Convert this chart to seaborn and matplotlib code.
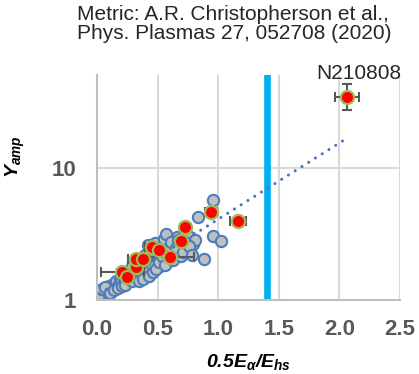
import matplotlib
matplotlib.use("Agg")
import matplotlib.pyplot as plt
import matplotlib.ticker as mticker
import seaborn as sns
import pandas as pd
import numpy as np

# ---- data ----
gray_x = [0.02, 0.03, 0.05, 0.06, 0.08, 0.09, 0.10, 0.12, 0.13, 0.15, 0.16, 0.18,
          0.19, 0.20, 0.22, 0.24, 0.25, 0.27, 0.28, 0.30, 0.31, 0.33, 0.34, 0.36,
          0.37, 0.39, 0.40, 0.41, 0.42, 0.44, 0.45, 0.47, 0.48, 0.50, 0.52, 0.53,
          0.55, 0.57, 0.575, 0.60, 0.62, 0.64, 0.66, 0.68, 0.70, 0.72, 0.74, 0.77,
          0.79, 0.81, 0.83, 0.88, 0.96, 0.96, 1.02,
          0.01, 0.04, 0.07, 0.11, 0.14, 0.17, 0.21, 0.23, 0.26, 0.29, 0.35, 0.38,
          0.43, 0.46, 0.49, 0.51, 0.54, 0.56, 0.58, 0.61, 0.63, 0.65, 0.67, 0.69,
          0.71, 0.73, 0.76, 0.78, 0.46, 0.40, 0.35, 0.29]
gray_y = [1.10, 1.14, 1.12, 1.18, 1.15, 1.22, 1.28, 1.20, 1.33, 1.27, 1.40, 1.32,
          1.45, 1.36, 1.52, 1.42, 1.60, 1.38, 1.55, 1.70, 1.47, 1.85, 1.60, 1.52,
          1.95, 1.75, 2.20, 1.65, 2.60, 2.00, 1.85, 2.30, 2.70, 2.05, 1.79, 2.50,
          2.90, 3.16, 1.95, 2.45, 2.25, 2.70, 3.00, 2.35, 2.60, 3.10, 2.39, 3.00,
          2.65, 2.85, 4.23, 2.04, 3.02, 5.70, 2.77,
          1.06, 1.20, 1.25, 1.12, 1.18, 1.24, 1.28, 1.30, 1.47, 1.40, 1.40, 1.45,
          1.52, 1.62, 1.70, 1.95, 2.15, 1.85, 2.35, 2.75, 2.00, 2.45, 2.85, 2.15,
          2.30, 2.75, 2.55, 2.20, 2.45, 2.00, 1.80, 1.80]

red_x = [0.21, 0.245, 0.32, 0.32, 0.38, 0.45, 0.51, 0.60, 0.69, 0.73, 0.94, 1.166, 2.06]
red_y = [1.62, 1.50, 1.77, 2.03, 2.04, 2.50, 2.39, 2.10, 2.80, 3.55, 4.58, 3.98, 34.0]
red_xerr = [0.18, 0.03, 0.03, 0.065, 0.03, 0.05, 0.03, 0.20, 0.03, 0.03, 0.05, 0.065, 0.10]
red_yerr_lo = [0, 0, 0, 0, 0, 0, 0, 0, 0, 0, 0, 0, 7.0]
red_yerr_hi = [0, 0, 0, 0, 0, 0, 0, 0, 0, 0, 0, 0, 8.5]

trend_x = [0.02, 2.06]
trend_y = [1.11, 16.6]

threshold_x = 1.40

x_ticks = [0.0, 0.5, 1.0, 1.5, 2.0, 2.5]
x_ticklabels = ["0.0", "0.5", "1.0", "1.5", "2.0", "2.5"]
y_ticks = [1, 10]
y_ticklabels = ["1", "10"]

title_text = "Metric: A.R. Christopherson et al.,\nPhys. Plasmas 27, 052708 (2020)"
shot_label = "N210808"

# ---- style ----
sns.set_style("white")
plt.rcParams["font.family"] = ["Liberation Sans", "DejaVu Sans"]
plt.rcParams["mathtext.fontset"] = "custom"
plt.rcParams["mathtext.rm"] = "Liberation Sans:bold:italic"
plt.rcParams["mathtext.it"] = "Liberation Sans:bold:italic"
plt.rcParams["mathtext.bf"] = "Liberation Sans:bold:italic"

fig = plt.figure(figsize=(4.19, 3.74), dpi=100)
ax = fig.add_axes([0.2315, 0.198, 0.7232, 0.6015])

ax.set_yscale("log")
ax.set_xlim(0, 2.5)
ax.set_ylim(1, 50)

# grid
for xv in x_ticks[1:]:
    ax.axvline(xv, color="#D9D9D9", lw=1.5, zorder=0)
ax.axhline(10, color="#D9D9D9", lw=1.5, zorder=0)

# threshold line
ax.axvline(threshold_x, color="#00B0F0", lw=4.8, zorder=1, solid_capstyle="round")

gray_df = pd.DataFrame({"x": gray_x, "y": gray_y})
sns.scatterplot(data=gray_df, x="x", y="y", ax=ax, s=66, color="#BFBFBF",
                edgecolor="#4A7EBB", linewidth=1.5, zorder=2, legend=False)

# trend line
ax.plot(trend_x, trend_y, color="#4472C4", lw=2.2, linestyle=(0, (0.01, 2.6)),
        dash_capstyle="round", zorder=3)

# red points with error bars
ax.errorbar(red_x, red_y, xerr=red_xerr, yerr=[red_yerr_lo, red_yerr_hi],
            fmt="none", ecolor="#595959", elinewidth=1.5, capsize=3.5,
            capthick=1.5, zorder=4)
red_df = pd.DataFrame({"x": red_x, "y": red_y})
sns.scatterplot(data=red_df, x="x", y="y", ax=ax, s=90, color="#FF0000",
                edgecolor="#9BBB59", linewidth=1.6, zorder=5, legend=False)

# axes styling
for side in ["top", "right"]:
    ax.spines[side].set_visible(False)
for side in ["left", "bottom"]:
    ax.spines[side].set_color("#BFBFBF")
    ax.spines[side].set_linewidth(1.5)

ax.set_xticks(x_ticks)
ax.set_xticklabels(x_ticklabels)
ax.yaxis.set_major_locator(mticker.FixedLocator(y_ticks))
ax.yaxis.set_major_formatter(mticker.FixedFormatter(y_ticklabels))
ax.yaxis.set_minor_locator(mticker.LogLocator(base=10, subs=np.arange(2, 10)))
ax.yaxis.set_minor_formatter(mticker.NullFormatter())

ax.tick_params(axis="x", which="major", length=0, pad=14, labelsize=16,
               labelcolor="#595959")
ax.tick_params(axis="y", which="major", length=4, width=1.5, color="#BFBFBF",
               direction="inout", pad=13, labelsize=16, labelcolor="#595959")
ax.tick_params(axis="y", which="minor", length=4, width=1.2, color="#BFBFBF",
               direction="in")
for lab in ax.get_xticklabels() + ax.get_yticklabels():
    lab.set_fontweight("bold")

ax.set_xlabel(r"$0.5E_{\alpha}/E_{hs}$", fontsize=14, color="black", labelpad=8)
ax.set_ylabel(r"$Y_{amp}$", fontsize=14, color="black")
ax.yaxis.set_label_coords(-0.23, 0.636)

fig.text(77 / 419, 1 - 5 / 374, title_text, fontsize=15, ha="left", va="top",
         linespacing=1.0)
ax.text(1.003, 0.982, shot_label, transform=ax.transAxes, fontsize=15,
        ha="right", va="baseline")

fig.savefig("out.png", dpi=100)
